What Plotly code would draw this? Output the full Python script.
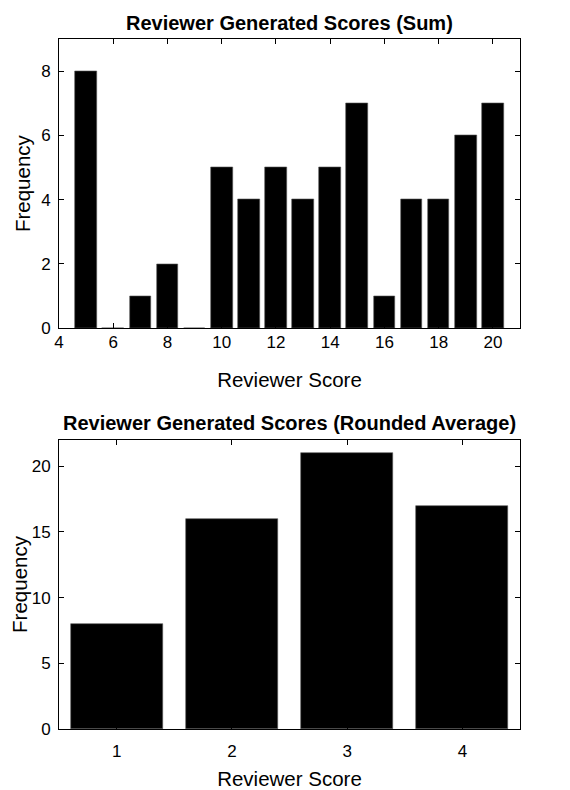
import plotly.graph_objects as go

# Data
sum_scores = [5, 6, 7, 8, 9, 10, 11, 12, 13, 14, 15, 16, 17, 18, 19, 20]
sum_freq = [8, 0, 1, 2, 0, 5, 4, 5, 4, 5, 7, 1, 4, 4, 6, 7]
avg_scores = [1, 2, 3, 4]
avg_freq = [8, 16, 21, 17]

FONT = "Liberation Sans, Arial, Helvetica, sans-serif"
OFF = 8  # page body margin
W, H = 570 - OFF, 790 - OFF

def pdom(top_px, bottom_px):
    return [1 - (bottom_px - OFF) / H, 1 - (top_px - OFF) / H]

fig = go.Figure()
fig.add_trace(go.Bar(x=sum_scores, y=sum_freq, width=0.8, xaxis="x", yaxis="y",
                     marker=dict(color="black", line=dict(color="#555", width=0.6)),
                     showlegend=False))
fig.add_trace(go.Bar(x=avg_scores, y=avg_freq, width=0.8, xaxis="x2", yaxis="y2",
                     marker=dict(color="black", line=dict(color="#555", width=0.6)),
                     showlegend=False))

axis_common = dict(showgrid=False, zeroline=False, showline=True, linecolor="black",
                   linewidth=1, mirror="ticks", ticks="inside", ticklen=5,
                   tickcolor="black", automargin=False,
                   tickfont=dict(size=17, color="black", family=FONT),
                   title_font=dict(size=20.5, color="black", family=FONT))

fig.update_layout(
    width=W, height=H,
    margin=dict(l=59 - OFF, r=570 - 520, t=0, b=0, autoexpand=False),
    plot_bgcolor="white", paper_bgcolor="white",
    font=dict(family=FONT, color="black"),
    bargap=0,
    xaxis=dict(axis_common, domain=[0, 1], range=[4, 21], tickvals=[4, 6, 8, 10, 12, 14, 16, 18, 20],
               anchor="y", ticklabelstandoff=-1, title=dict(text="Reviewer Score", standoff=21)),
    yaxis=dict(axis_common, domain=pdom(39.3, 328), range=[0, 9], tickvals=[0, 2, 4, 6, 8],
               anchor="x", ticklabelstandoff=4, title=dict(text="Frequency", standoff=4)),
    xaxis2=dict(axis_common, domain=[0, 1], range=[0.5, 4.5], tickvals=[1, 2, 3, 4],
                anchor="y2", ticklabelstandoff=7, title=dict(text="Reviewer Score", standoff=12)),
    yaxis2=dict(axis_common, domain=pdom(440, 729), range=[0, 22], tickvals=[0, 5, 10, 15, 20],
                anchor="x2", ticklabelstandoff=4, title=dict(text="Frequency", standoff=6)),
    annotations=[
        dict(text="<b>Reviewer Generated Scores (Sum)</b>", xref="paper", yref="paper",
             x=0.5, y=1 - (23 - OFF) / H, xanchor="center", yanchor="middle", showarrow=False,
             font=dict(size=20, color="black", family=FONT)),
        dict(text="<b>Reviewer Generated Scores (Rounded Average)</b>", xref="paper", yref="paper",
             x=0.5, y=1 - (423 - OFF) / H, xanchor="center", yanchor="middle", showarrow=False,
             font=dict(size=20, color="black", family=FONT)),
    ],
)

fig.write_html("out.html")
